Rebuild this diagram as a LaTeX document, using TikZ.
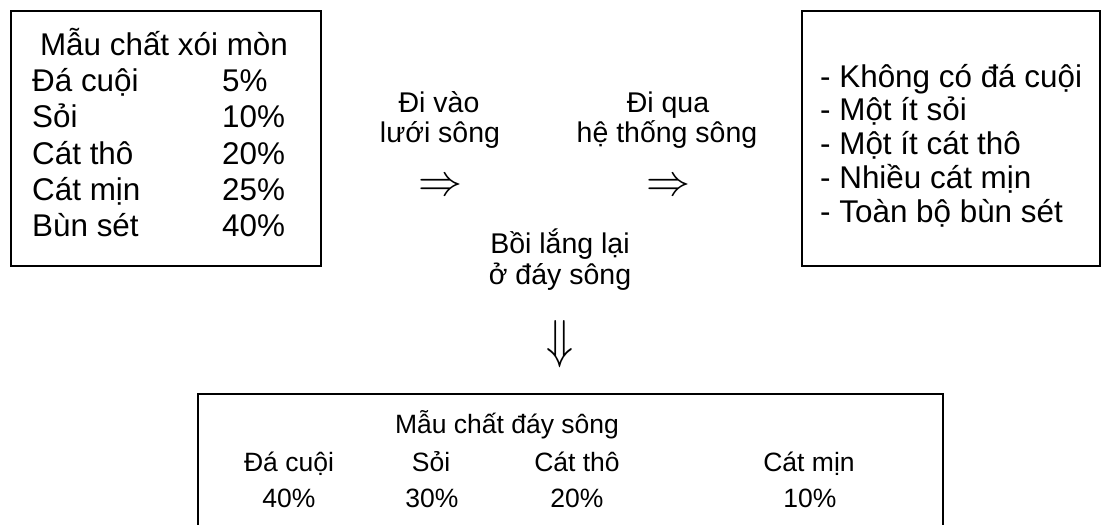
\documentclass[tikz,border=0pt]{standalone}
\usepackage{fontspec}
\setmainfont{Liberation Sans}
\usepackage{graphicx}
\tikzset{
  box/.style={draw, line width=1.6pt, rectangle, inner sep=0pt, anchor=north west},
  big/.style={font=\fontsize{31.4}{36}\selectfont, inner sep=0pt},
  mid/.style={font=\fontsize{28.5}{32}\selectfont, inner sep=0pt, anchor=base},
  low/.style={font=\fontsize{26.5}{31}\selectfont, inner sep=0pt, anchor=base},
  sym/.style={inner sep=0pt},
}
\begin{document}
\begin{tikzpicture}[x=1pt,y=-1pt]
\useasboundingbox (0,0) rectangle (1101,525);
% boxes
\node[box, minimum width=310pt, minimum height=255pt] (src) at (10,10) {};
\node[box, minimum width=298pt, minimum height=255pt] (dst) at (801,10) {};
\node[box, minimum width=745pt, minimum height=170pt] (bed) at (197,393) {};
% left box
\node[big, anchor=base] (srct) at (164,55) {Mẫu chất xói mòn};
\node[big, anchor=base west] (s1) at (32,91) {Đá cuội};
\node[big, anchor=base west] (s2) at (32,127) {Sỏi};
\node[big, anchor=base west] (s3) at (32,164) {Cát thô};
\node[big, anchor=base west] (s4) at (32,200) {Cát mịn};
\node[big, anchor=base west] (s5) at (32,236) {Bùn sét};
\node[big, anchor=base west] (p1) at (222,91) {5\%};
\node[big, anchor=base west] (p2) at (222,127) {10\%};
\node[big, anchor=base west] (p3) at (222,164) {20\%};
\node[big, anchor=base west] (p4) at (222,200) {25\%};
\node[big, anchor=base west] (p5) at (222,236) {40\%};
% right box
\node[big, anchor=base west] (r1) at (820,87) {- Không có đá cuội};
\node[big, anchor=base west] (r2) at (820,120) {- Một ít sỏi};
\node[big, anchor=base west] (r3) at (820,154) {- Một ít cát thô};
\node[big, anchor=base west] (r4) at (820,188) {- Nhiều cát mịn};
\node[big, anchor=base west] (r5) at (820,222) {- Toàn bộ bùn sét};
% middle labels
\node[mid] (in1) at (439,112) {Đi vào};
\node[mid] (in2) at (440,142) {lưới sông};
\node[mid] (th1) at (668,112) {Đi qua};
\node[mid] (th2) at (667,142) {hệ thống sông};
\node[mid] (dp1) at (560,253) {Bồi lắng lại};
\node[mid] (dp2) at (560,284) {ở đáy sông};
% arrows
\node[sym] (a1) at (440,187) {\resizebox{44pt}{!}{$\Rightarrow$}};
\node[sym] (a2) at (668,187) {\resizebox{44pt}{!}{$\Rightarrow$}};
\node[sym] (a3) at (560,344) {\resizebox{27pt}{37pt}{$\Downarrow$}};
% bottom box
\node[low] (bt) at (507,433) {Mẫu chất đáy sông};
\node[low] (b1) at (289,471) {Đá cuội};
\node[low] (b2) at (431,471) {Sỏi};
\node[low] (b3) at (577,471) {Cát thô};
\node[low] (b4) at (809,471) {Cát mịn};
\node[low] (c1) at (289,507) {40\%};
\node[low] (c2) at (432,507) {30\%};
\node[low] (c3) at (577,507) {20\%};
\node[low] (c4) at (810,507) {10\%};
\end{tikzpicture}
\end{document}
